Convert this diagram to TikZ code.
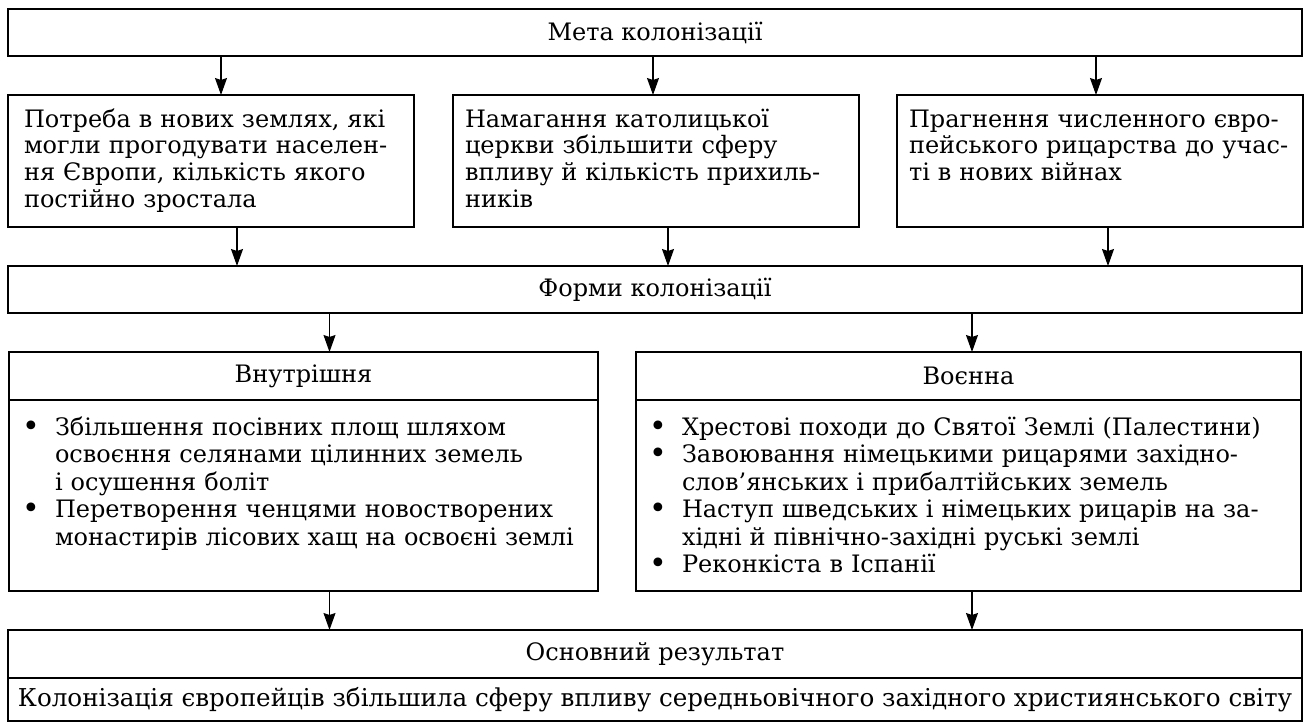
\documentclass[tikz,border=0pt]{standalone}
\usepackage{fontspec}
\setmainfont{DejaVu Serif}
\usetikzlibrary{arrows.meta, positioning}

\newcommand{\colbul}{\makebox[17pt][l]{\hspace{0.5pt}\raisebox{-0.6pt}{\fontsize{15}{13}\selectfont\textbullet}}}
\renewcommand{\arraystretch}{1.03}

\begin{document}
\begin{tikzpicture}[
    x=0.5pt, y=-0.5pt,
    every node/.style={font=\fontsize{12}{13.35}\selectfont},
    title/.style={rectangle, draw, line width=0.8pt, outer sep=0pt, minimum width=647pt, minimum height=23.5pt, inner sep=0pt},
    goal/.style={rectangle, draw, line width=0.8pt, outer sep=0pt, anchor=north west, text width=191pt, inner xsep=6pt, inner ysep=7pt, text height=9pt, text depth=43pt, align=left},
    formhead/.style={rectangle, draw, line width=0.8pt, outer sep=0pt, anchor=north west, minimum height=24pt, inner sep=0pt},
    formbody/.style={rectangle, draw, line width=0.8pt, outer sep=0pt, anchor=north, inner xsep=6pt, inner ysep=8.5pt, text height=9pt, text depth=69.5pt, align=left},
    arr/.style={-{Stealth[length=8.5pt, width=6pt, inset=1pt]}, line width=0.6pt}
]
\useasboundingbox (0,0) rectangle (1308,723);

% Goals
\node[title] (meta) at (655,32.5) {Мета колонізації};

\node[goal] (b1) at (8,95) {\hspace{2pt}Потреба в нових землях, які\\ \hspace{2pt}могли прогодувати населен-\\ \hspace{2pt}ня Європи, кількість якого\\ \hspace{2pt}постійно зростала};
\node[goal] (b2) at (453,95) {Намагання католицької\\ церкви збільшити сферу\\ впливу й кількість прихиль-\\ ників};
\node[goal] (b3) at (897,95) {Прагнення численного євро-\\ пейського рицарства до учас-\\ ті в нових війнах};

% Forms
\node[title] (forms) at (655,289.5) {Форми колонізації};

\node[formhead, minimum width=294.5pt] (kind) at (9,352) {Внутрішня};
\node[formbody, text width=282.5pt] (kindbody) at (kind.south) {%
    \begin{tabular}[t]{@{}l@{}l@{}}
    \colbul & Збільшення посівних площ шляхом\\
            & освоєння селянами цілинних земель\\
            & і осушення боліт\\
    \colbul & Перетворення ченцями новостворених\\
            & монастирів лісових хащ на освоєні землі
    \end{tabular}};

\node[formhead, minimum width=332.5pt] (mil) at (636,352) {Воєнна};
\node[formbody, text width=320.5pt] (milbody) at (mil.south) {%
    \begin{tabular}[t]{@{}l@{}l@{}}
    \colbul & Хрестові походи до Святої Землі (Палестини)\\
    \colbul & Завоювання німецькими рицарями західно-\\
            & слов’янських і прибалтійських земель\\
    \colbul & Наступ шведських і німецьких рицарів на за-\\
            & хідні й північно-західні руські землі\\
    \colbul & Реконкіста в Іспанії
    \end{tabular}};

% Result
\node[formhead, minimum width=647pt] (result) at (8,630) {Основний результат};
\node[title, anchor=north, minimum height=21.5pt, font=\fontsize{12.3}{13.35}\selectfont] (resbody) at (result.south) {Колонізація європейців збільшила сферу впливу середньовічного західного християнського світу};

% Arrows
\draw[arr] ([xshift=5pt]b1.north |- meta.south) -- ([xshift=5pt]b1.north);
\draw[arr] ([xshift=-1.5pt]b2.north |- meta.south) -- ([xshift=-1.5pt]b2.north);
\draw[arr] ([xshift=-2pt]b3.north |- meta.south) -- ([xshift=-2pt]b3.north);
\draw[arr] ([xshift=13pt]b1.south) -- ([xshift=13pt]b1.south |- forms.north);
\draw[arr] ([xshift=6pt]b2.south) -- ([xshift=6pt]b2.south |- forms.north);
\draw[arr] ([xshift=4pt]b3.south) -- ([xshift=4pt]b3.south |- forms.north);
\draw[arr] ([xshift=13pt]kind.north |- forms.south) -- ([xshift=13pt]kind.north);
\draw[arr] ([xshift=1.75pt]mil.north |- forms.south) -- ([xshift=1.75pt]mil.north);
\draw[arr] ([xshift=13pt]kindbody.south) -- ([xshift=13pt]kindbody.south |- result.north);
\draw[arr] ([xshift=1.75pt]milbody.south) -- ([xshift=1.75pt]milbody.south |- result.north);

\end{tikzpicture}
\end{document}
